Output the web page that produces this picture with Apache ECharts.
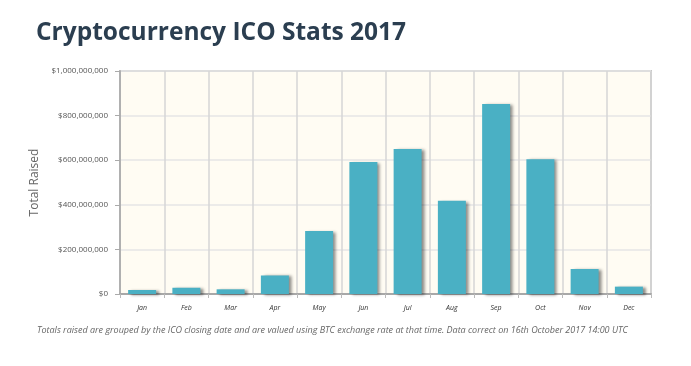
<!DOCTYPE html>
<html><head><meta charset="utf-8">
<script src="https://cdn.jsdelivr.net/npm/echarts@6/dist/echarts.min.js"></script>
<style>html,body{margin:0;padding:0;background:#fff}#c{width:691px;height:366px}</style>
</head><body><div id="c"></div>
<script>
const categories = ['Jan','Feb','Mar','Apr','May','Jun','Jul','Aug','Sep','Oct','Nov','Dec'];
const totalRaised = [18000000, 28000000, 21000000, 83000000, 283000000, 592000000, 650000000, 418000000, 852000000, 604000000, 112000000, 33000000];
const yTicks = [0, 200000000, 400000000, 600000000, 800000000, 1000000000];
const titleText = 'Cryptocurrency ICO Stats 2017';
const yAxisName = 'Total Raised';
const footnote = 'Totals raised are grouped by the ICO closing date and are valued using BTC exchange rate at that time. Data correct on 16th October 2017 14:00 UTC';

const chart = echarts.init(document.getElementById('c'));
chart.setOption({
  animation: false,
  backgroundColor: '#ffffff',
  title: [{
    text: titleText, left: 31, top: 16,
    textStyle: {fontFamily: 'Open Sans', fontWeight: 'bold', fontSize: 24.5, color: '#2b3e50'}
  }, {
    text: footnote, left: 32, top: 321,
    textStyle: {fontFamily: 'Open Sans', fontStyle: 'italic', fontWeight: 'normal', fontSize: 9, color: '#666'}
  }],
  grid: {left: 120, right: 40, top: 71, bottom: 72, show: true, backgroundColor: '#fffcf3', borderColor: '#c6c6c6', borderWidth: 2},
  xAxis: {
    type: 'category', data: categories,
    axisLine: {lineStyle: {color: '#a8a8a8', width: 2}},
    axisTick: {show: true, length: 4, lineStyle: {color: '#bbb'}},
    splitLine: {show: true, lineStyle: {color: '#d6d6d6', width: 1.5}},
    axisLabel: {fontFamily: 'Open Sans', fontStyle: 'italic', fontSize: 7, color: '#333', margin: 10}
  },
  yAxis: {
    type: 'value', min: 0, max: 1000000000, interval: 200000000,
    name: yAxisName, nameLocation: 'middle', nameGap: 76,
    nameTextStyle: {fontFamily: 'Open Sans', fontSize: 12, color: '#666'},
    axisLine: {show: true, lineStyle: {color: '#b0b0b0', width: 2}},
    axisTick: {show: true, length: 5, lineStyle: {color: '#aaa'}},
    splitLine: {show: true, lineStyle: {color: '#e6e6e6', width: 1.5}},
    axisLabel: {fontFamily: 'Open Sans', fontSize: 8, color: '#555', margin: 12,
      formatter: v => '$' + v.toLocaleString('en-US')}
  },
  series: [{
    type: 'bar', data: totalRaised, barWidth: 28,
    itemStyle: {color: '#4ab0c4', shadowColor: 'rgba(0,0,0,0.45)', shadowOffsetX: 3, shadowOffsetY: 1, shadowBlur: 3}
  }]
});
</script></body></html>
